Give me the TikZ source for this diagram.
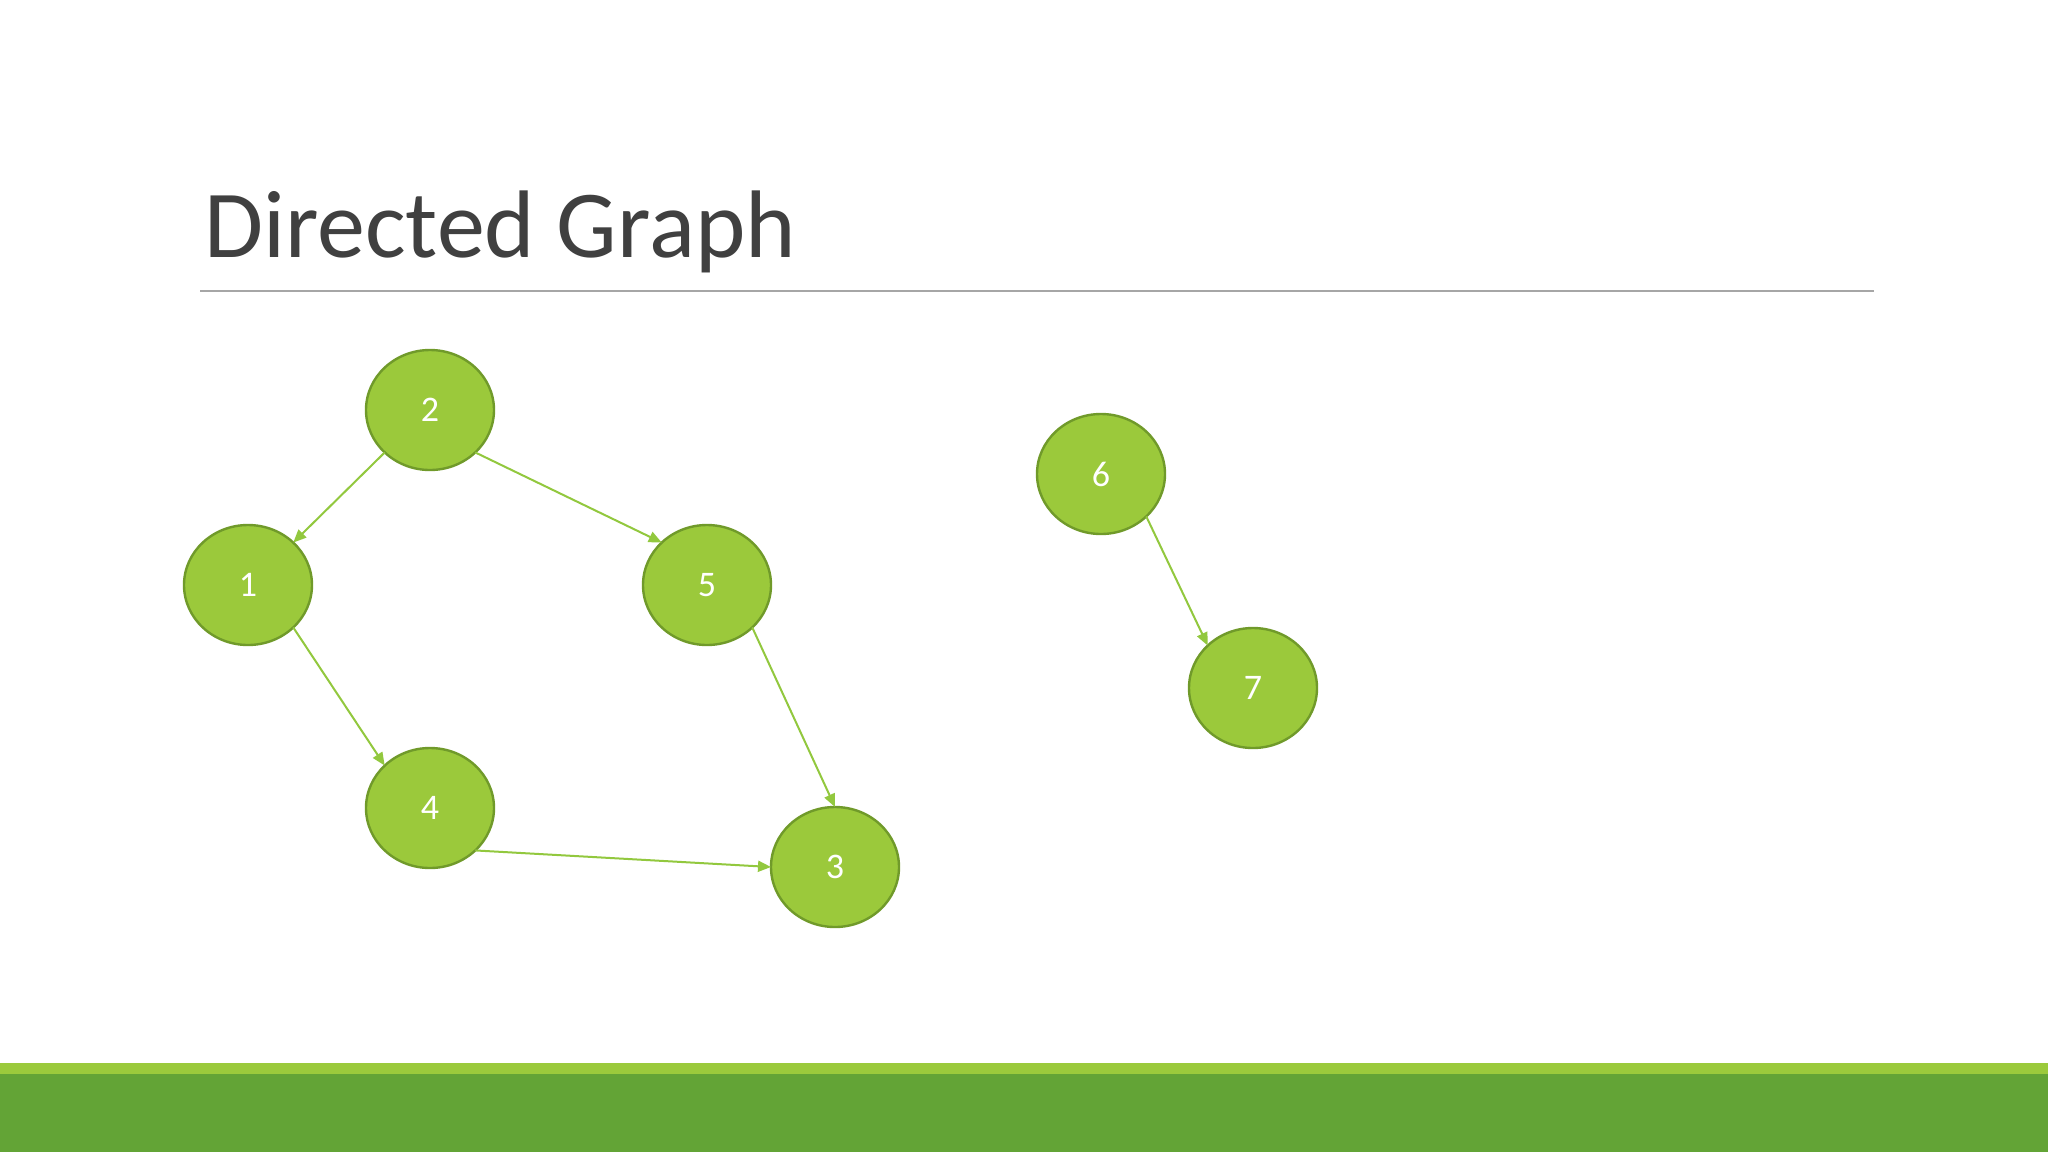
\documentclass[tikz,border=0pt]{standalone}
\usepackage{fontspec}
\setmainfont{Carlito}
\usetikzlibrary{shapes.geometric,arrows.meta}
\definecolor{nodefill}{RGB}{155,201,59}
\definecolor{nodeline}{RGB}{112,154,42}
\definecolor{edgecol}{RGB}{146,200,62}
\definecolor{barlight}{RGB}{155,202,60}
\definecolor{bardark}{RGB}{99,164,54}
\definecolor{titlegray}{RGB}{64,64,64}
\definecolor{rulegray}{RGB}{166,166,166}
\tikzset{
  vertex/.style={ellipse,draw=nodeline,fill=nodefill,line width=2.4pt,
    minimum width=128pt,minimum height=120pt,inner sep=0pt,outer sep=0pt,
    text=white,font=\fontsize{36}{40}\selectfont},
  edge/.style={draw=edgecol,line width=2pt,-{Triangle[length=13pt,width=11pt]}}
}
\begin{document}
\begin{tikzpicture}[x=1pt,y=-1pt]
\useasboundingbox (0,0) rectangle (2048,1152);
\fill[white] (0,0) rectangle (2048,1152);
% bottom bars
\fill[barlight] (0,1063) rectangle (2048,1074);
\fill[bardark] (0,1074) rectangle (2048,1152);
% title
\node[anchor=base west,inner sep=0pt,text=titlegray,font=\fontsize{96}{110}\selectfont] (title) at (204,257) {Directed Graph};
\draw[rulegray,line width=2pt] (200,291) coordinate (r1) -- (1874,291) coordinate (r2);
% nodes
\node[vertex] (n2) at (430,410) {2};
\node[vertex] (n1) at (248,585) {1};
\node[vertex] (n5) at (707,585) {5};
\node[vertex] (n4) at (430,808) {4};
\node[vertex] (n3) at (835,867) {3};
\node[vertex] (n6) at (1101,474) {6};
\node[vertex] (n7) at (1253,688) {7};
% edges
\draw[edge] (n2.south west) -- (n1.north east);
\draw[edge] (n2.south east) -- (n5.north west);
\draw[edge] (n1.south east) -- (n4.north west);
\draw[edge] (n5.south east) -- (n3.north);
\draw[edge] (n4.south east) -- (n3.west);
\draw[edge] (n6.south east) -- (n7.north west);
\end{tikzpicture}
\end{document}
